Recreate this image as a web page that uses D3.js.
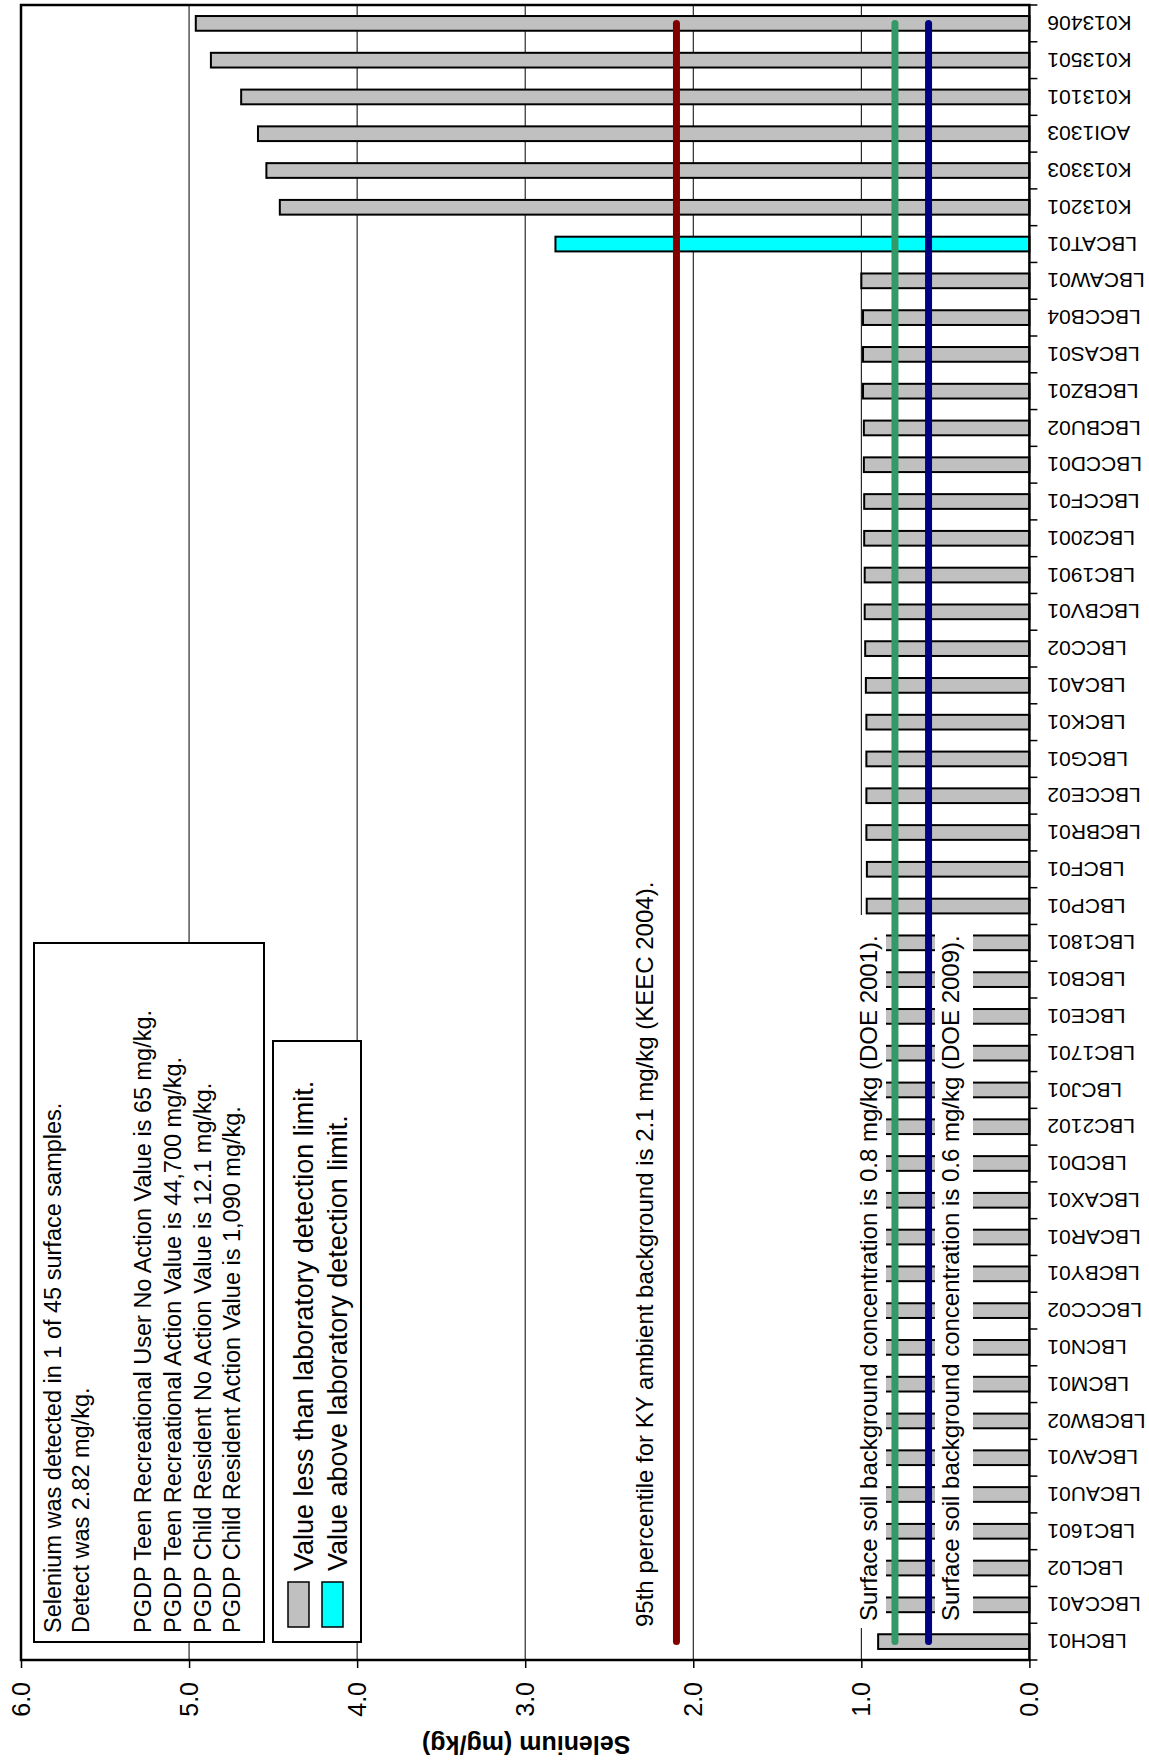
<!DOCTYPE html>
<html>
<head>
<meta charset="utf-8">
<script src="https://cdn.jsdelivr.net/npm/d3@7"></script>
<style>
  body { margin: 0; background: #fff; }
  svg { display: block; }
  text { font-family: "Liberation Sans", Arial, sans-serif; fill: #000; }
</style>
</head>
<body>
<svg id="chart" width="1149" height="1760"></svg>
<script>
// Surface soil selenium results, ordered by value (lowest first)
const samples = [
  "LBCH01", "LBCCA01", "LBCL02", "LBC1601", "LBCAU01", "LBCAV01", "LBCBW02", "LBCM01",
  "LBCN01", "LBCCC02", "LBCBY01", "LBCAR01", "LBCAX01", "LBCD01", "LBC2102", "LBCJ01",
  "LBC1701", "LBCE01", "LBCB01", "LBC1801", "LBCP01", "LBCF01", "LBCBR01", "LBCCE02",
  "LBCG01", "LBCK01", "LBCA01", "LBCC02", "LBCBV01", "LBC1901", "LBC2001", "LBCCF01",
  "LBCCD01", "LBCBU02", "LBCBZ01", "LBCAS01", "LBCCB04", "LBCAW01", "LBCAT01", "K013201",
  "K013303", "AOI1303", "K013101", "K013501", "K013406"
];
const selenium = [
  0.90, 0.92, 0.93, 0.93, 0.94, 0.94, 0.94, 0.95,
  0.95, 0.95, 0.95, 0.95, 0.96, 0.96, 0.96, 0.96,
  0.96, 0.96, 0.965, 0.965, 0.968, 0.967, 0.97, 0.97,
  0.97, 0.97, 0.973, 0.977, 0.98, 0.98, 0.983, 0.983,
  0.985, 0.985, 0.99, 0.99, 0.99, 1.00, 2.82, 4.46,
  4.54, 4.59, 4.69, 4.87, 4.96
];
const detectedSamples = ["LBCAT01"];
const valueTicks = [0, 1, 2, 3, 4, 5, 6];

// Background / screening reference values
const refValues = [2.1, 0.8, 0.6];
const refLabels = [
  "95th percentile for KY ambient background is 2.1 mg/kg (KEEC 2004).",
  "Surface soil background concentration is 0.8 mg/kg (DOE 2001).",
  "Surface soil background concentration is 0.6 mg/kg (DOE 2009)."
];
const noteLines = [
  "Selenium was detected in 1 of 45 surface samples.",
  "Detect was 2.82 mg/kg.",
  "PGDP Teen Recreational User No Action Value is 65 mg/kg.",
  "PGDP Teen Recreational Action Value is 44,700 mg/kg.",
  "PGDP Child Resident No Action Value is 12.1 mg/kg.",
  "PGDP Child Resident Action Value is 1,090 mg/kg."
];
const legendLabels = [
  "Value less than laboratory detection limit.",
  "Value above laboratory detection limit."
];
const axisTitle = "Selenium (mg/kg)";

// ---- styling ----
const refColors = ["#800000", "#339966", "#000080"];
const barFill = { nd: "#c0c0c0", det: "#00ffff" };

// The chart is laid out landscape (1760 x 1149) and turned a quarter turn
// counter-clockwise onto the portrait page.
const PAGE_H = 1760;
const svg = d3.select("#chart");
const g = svg.append("g").attr("transform", `translate(0,${PAGE_H}) rotate(-90)`);

const plot = { left: 100, right: 1755, top: 21, bottom: 1029.4 };

const x = d3.scaleBand()
  .domain(samples)
  .range([plot.left, plot.right])
  .paddingInner(0.6)
  .paddingOuter(0.3);

const y = d3.scaleLinear().domain([0, 6]).range([plot.bottom, plot.top]);

const data = samples.map((s, i) => ({ sample: s, value: selenium[i], detected: detectedSamples.includes(s) }));

// gridlines
g.append("g")
  .selectAll("line")
  .data(valueTicks.filter(t => t > 0 && t < 6))
  .join("line")
  .attr("x1", plot.left).attr("x2", plot.right)
  .attr("y1", d => y(d)).attr("y2", d => y(d))
  .attr("stroke", "#000").attr("stroke-width", 1);

// bars
g.append("g")
  .selectAll("rect")
  .data(data)
  .join("rect")
  .attr("x", d => x(d.sample))
  .attr("width", x.bandwidth())
  .attr("y", d => y(d.value))
  .attr("height", d => y(0) - y(d.value))
  .attr("fill", d => d.detected ? barFill.det : barFill.nd)
  .attr("stroke", "#000")
  .attr("stroke-width", 2);

// plot frame
g.append("rect")
  .attr("x", plot.left).attr("y", plot.top)
  .attr("width", plot.right - plot.left).attr("height", plot.bottom - plot.top)
  .attr("fill", "none").attr("stroke", "#000").attr("stroke-width", 2.5);

// reference line labels (the two soil labels sit on white boxes)
const refText = [
  { x: 133, y: 653, box: null },
  { x: 139, y: 877, box: { x: 132, y: 850, w: 713, h: 36 } },
  { x: 139, y: 959, box: { x: 132, y: 935, w: 713, h: 38 } }
];
refText.forEach((p, i) => {
  if (p.box) {
    g.append("rect")
      .attr("x", p.box.x).attr("y", p.box.y)
      .attr("width", p.box.w).attr("height", p.box.h)
      .attr("fill", "#fff");
  }
  g.append("text")
    .attr("x", p.x).attr("y", p.y)
    .attr("font-size", 24)
    .text(refLabels[i]);
});

// reference lines spanning the first to last sample
const cx = s => x(s) + x.bandwidth() / 2;
g.append("g")
  .selectAll("line")
  .data(refValues)
  .join("line")
  .attr("x1", cx(samples[0]))
  .attr("x2", cx(samples[samples.length - 1]))
  .attr("y1", d => y(d)).attr("y2", d => y(d))
  .attr("stroke", (d, i) => refColors[i])
  .attr("stroke-width", 7)
  .attr("stroke-linecap", "round");

// notes box
g.append("rect")
  .attr("x", 118).attr("y", 34).attr("width", 699).attr("height", 230)
  .attr("fill", "#fff").attr("stroke", "#000").attr("stroke-width", 2);
const noteY = [61, 89, 151, 181, 211, 240];
g.append("g")
  .selectAll("text")
  .data(noteLines)
  .join("text")
  .attr("x", 127)
  .attr("y", (d, i) => noteY[i])
  .attr("font-size", 23.5)
  .text(d => d);

// legend box
g.append("rect")
  .attr("x", 118).attr("y", 273).attr("width", 601).attr("height", 88)
  .attr("fill", "#fff").attr("stroke", "#000").attr("stroke-width", 2);
const legendRows = [
  { sy: 288, ty: 313, fill: barFill.nd },
  { sy: 322, ty: 347, fill: barFill.det }
];
legendRows.forEach((r, i) => {
  g.append("rect")
    .attr("x", 133).attr("y", r.sy).attr("width", 45).attr("height", 21)
    .attr("fill", r.fill).attr("stroke", "#000").attr("stroke-width", 1.5);
  g.append("text")
    .attr("x", 189).attr("y", r.ty)
    .attr("font-size", 27)
    .text(legendLabels[i]);
});

// value axis
const yAxis = g.append("g")
  .attr("transform", `translate(${plot.left},0)`)
  .call(d3.axisLeft(y).tickValues(valueTicks).tickFormat(d3.format(".1f")).tickSize(8).tickPadding(14));
yAxis.select(".domain").remove();
yAxis.selectAll(".tick line").attr("stroke", "#000").attr("stroke-width", 1.5);
yAxis.selectAll("text")
  .attr("font-size", 25)
  .attr("font-family", '"Liberation Sans", Arial, sans-serif')
  .attr("fill", "#000");

// sample axis: labels at band centres, ticks between bands
const xAxis = g.append("g")
  .attr("transform", `translate(0,${plot.bottom})`)
  .call(d3.axisBottom(x).tickSize(0));
xAxis.select(".domain").remove();
xAxis.selectAll("text")
  .attr("transform", "rotate(-90)")
  .attr("x", -18)
  .attr("y", 0)
  .attr("dy", "0.35em")
  .attr("text-anchor", "end")
  .attr("font-size", 21)
  .attr("font-family", '"Liberation Sans", Arial, sans-serif')
  .attr("fill", "#000");

g.append("g")
  .selectAll("line")
  .data(d3.range(samples.length + 1))
  .join("line")
  .attr("x1", i => plot.left + i * x.step())
  .attr("x2", i => plot.left + i * x.step())
  .attr("y1", plot.bottom).attr("y2", plot.bottom + 8)
  .attr("stroke", "#000").attr("stroke-width", 1.5);

// axis title
g.append("text")
  .attr("transform", `translate(24,${(plot.top + plot.bottom) / 2 + 1}) rotate(-90)`)
  .attr("text-anchor", "middle")
  .attr("font-size", 25)
  .attr("font-weight", "bold")
  .text(axisTitle);
</script>
</body>
</html>
